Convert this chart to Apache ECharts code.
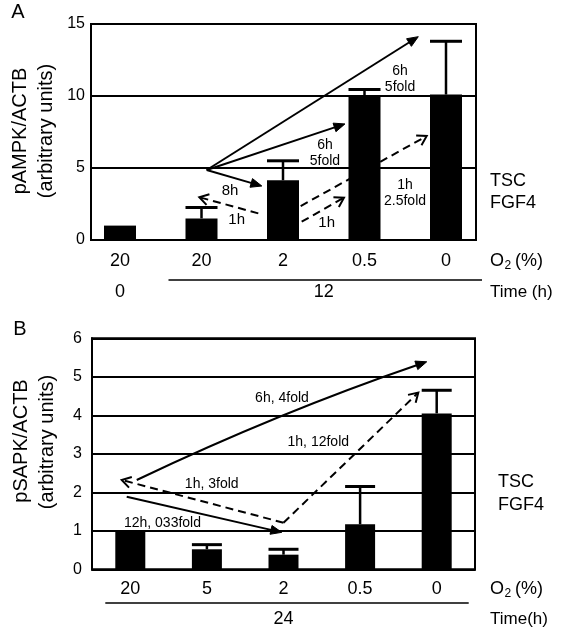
<!DOCTYPE html>
<html><head><meta charset="utf-8">
<script src="https://cdn.jsdelivr.net/npm/echarts@6/dist/echarts.min.js"></script>
<style>html,body{margin:0;padding:0;background:#fff}#c{width:564px;height:629px}</style>
</head><body><div id="c"></div>
<script>
// ---------- data ----------
const categoriesA = ['20', '20', '2', '0.5', '0'];
const valuesA = [1.0, 1.5, 4.15, 10.0, 10.1];
const errUpperA = [0, 0.75, 1.35, 0.46, 3.7];
const yMaxA = 15, yStepA = 5;

const categoriesB = ['20', '5', '2', '0.5', '0'];
const valuesB = [1.0, 0.52, 0.38, 1.17, 4.05];
const errUpperB = [0, 0.12, 0.14, 0.98, 0.6];
const yMaxB = 6, yStepB = 1;

// time groups (label, first category, last category)
const timeGroupsA = [['0', 0, 0], ['12', 1, 4]];
const timeGroupsB = [['24', 0, 4]];

// annotations in data units: [category position, y value]
const arrowsA = [
  { from: [1.064, 4.86], to: [3.66, 14.12], dash: false },
  { from: [1.064, 4.86], to: [2.76, 8.06], dash: false },
  { from: [1.064, 4.86], to: [1.74, 3.75], dash: false },
  { from: [1.697, 1.85], to: [0.973, 2.97], dash: true },
  { from: [2.217, 2.36], to: [3.763, 7.22], dash: true },
  { from: [2.229, 1.27], to: [2.748, 2.94], dash: true }
];
const labelsA = [
  ['6h\n5fold', 3.436, 11.18, 14],
  ['6h\n5fold', 2.515, 6.04, 14],
  ['8h', 1.35, 3.40, 15],
  ['1h', 1.432, 1.39, 15],
  ['1h\n2.5fold', 3.497, 3.23, 14],
  ['1h', 2.536, 1.16, 15]
];
const arrowsB = [
  { from: [0.084, 2.32], to: [3.87, 5.39], ctrl: [1.932, 4.07], dash: false },
  { from: [2.0, 1.21], to: [-0.112, 2.32], dash: true },
  { from: [-0.047, 1.886], to: [1.977, 0.96], dash: false },
  { from: [2.0, 1.21], to: [3.76, 4.59], dash: true }
];
const labelsB = [
  ['6h, 4fold', 1.98, 4.44, 14],
  ['1h, 3fold', 1.063, 2.21, 14],
  ['12h, 033fold', 0.42, 1.21, 14],
  ['1h, 12fold', 2.454, 3.29, 14]
];

// ---------- chart ----------
const FONT = 'Liberation Sans, Arial, Helvetica, sans-serif';
const chart = echarts.init(document.getElementById('c'), null, { renderer: 'canvas' });

function errData(vals, errs) {
  const out = [];
  vals.forEach((v, i) => { if (errs[i] > 0) out.push([i, v, v + errs[i]]); });
  return out;
}
function errSeries(xi, yi, vals, errs, capW) {
  return {
    type: 'custom', xAxisIndex: xi, yAxisIndex: yi, z: 5,
    data: errData(vals, errs),
    renderItem: function (params, api) {
      const p0 = api.coord([api.value(0), api.value(1)]);
      const p1 = api.coord([api.value(0), api.value(2)]);
      return {
        type: 'group', children: [
          { type: 'line', shape: { x1: p0[0], y1: p0[1], x2: p1[0], y2: p1[1] }, style: { stroke: '#000', lineWidth: 2.5 } },
          { type: 'line', shape: { x1: p1[0] - capW / 2, y1: p1[1], x2: p1[0] + capW / 2, y2: p1[1] }, style: { stroke: '#000', lineWidth: 3 } }
        ]
      };
    }
  };
}
const catLabel = (m) => ({ show: true, color: '#000', fontSize: 18, fontFamily: FONT, margin: m, interval: 0 });

chart.setOption({
  animation: false,
  backgroundColor: '#fff',
  grid: [
    { left: 91, top: 24, width: 385, height: 216, show: true, borderColor: '#000', borderWidth: 2, backgroundColor: 'transparent' },
    { left: 79.25, top: 24, width: 407.5, height: 216 },
    { left: 92, top: 338.3, width: 383, height: 231, show: true, borderColor: '#000', borderWidth: 2, backgroundColor: 'transparent' }
  ],
  xAxis: [
    { gridIndex: 0, type: 'value', min: 0, max: 1, show: false, position: 'top' },
    { gridIndex: 1, type: 'category', data: categoriesA, position: 'bottom', axisLine: { show: false }, axisTick: { show: false }, axisLabel: catLabel(12) },
    { gridIndex: 1, type: 'value', min: -0.5, max: 4.5, show: false, position: 'top' },
    { gridIndex: 2, type: 'category', data: categoriesB, position: 'bottom', axisLine: { show: true, onZero: false, lineStyle: { color: '#000', width: 2 } }, axisTick: { show: false }, axisLabel: catLabel(11) },
    { gridIndex: 2, type: 'value', min: -0.5, max: 4.5, show: false, position: 'top' }
  ],
  yAxis: [
    { gridIndex: 0, type: 'value', min: 0, max: yMaxA, interval: yStepA,
      axisLine: { show: true, onZero: false, lineStyle: { color: '#000', width: 2 } }, axisTick: { show: false },
      axisLabel: { color: '#000', fontSize: 16, fontFamily: FONT, margin: 6 },
      splitLine: { show: true, lineStyle: { color: '#000', width: 2 } } },
    { gridIndex: 1, type: 'value', min: 0, max: yMaxA, show: false, splitLine: { show: false } },
    { gridIndex: 2, type: 'value', min: 0, max: yMaxB, interval: yStepB,
      axisLine: { show: true, onZero: false, lineStyle: { color: '#000', width: 2 } }, axisTick: { show: false },
      axisLabel: { color: '#000', fontSize: 16, fontFamily: FONT, margin: 10 },
      splitLine: { show: true, lineStyle: { color: '#000', width: 2 } } }
  ],
  series: [
    { type: 'line', xAxisIndex: 0, yAxisIndex: 0, data: [] },
    { type: 'bar', xAxisIndex: 1, yAxisIndex: 1, data: valuesA, barWidth: 32, itemStyle: { color: '#000' }, z: 4 },
    errSeries(1, 1, valuesA, errUpperA, 32),
    { type: 'bar', xAxisIndex: 3, yAxisIndex: 2, data: valuesB, barWidth: 30, itemStyle: { color: '#000' }, z: 4 },
    errSeries(3, 2, valuesB, errUpperB, 30)
  ]
});

// ---------- annotations ----------
const G = [];
const toA = (p) => chart.convertToPixel({ xAxisIndex: 2, yAxisIndex: 1 }, p);
const toB = (p) => chart.convertToPixel({ xAxisIndex: 4, yAxisIndex: 2 }, p);

function text(str, x, y, size, opts) {
  opts = opts || {};
  G.push({
    type: 'text', x: x, y: y, rotation: opts.rot || 0, z: 20,
    style: { text: str, fill: '#000', fontSize: size, fontFamily: FONT,
      align: opts.align || 'center', verticalAlign: 'middle', lineHeight: opts.lh || size + 2 }
  });
}
function arrow(a, conv) {
  const p0 = conv(a.from), p1 = conv(a.to);
  const c = a.ctrl ? conv(a.ctrl) : null;
  const ref = c || p0;
  let dx = p1[0] - ref[0], dy = p1[1] - ref[1];
  const len = Math.hypot(dx, dy); dx /= len; dy /= len;
  const nx = -dy, ny = dx;
  const L = a.dash ? 9 : 11, W = a.dash ? 5.5 : 4.5;
  const base = [p1[0] - dx * L, p1[1] - dy * L];
  const endLine = a.dash ? [p1[0] - dx * 1.5, p1[1] - dy * 1.5] : [p1[0] - dx * L * 0.7, p1[1] - dy * L * 0.7];
  const st = { stroke: '#000', lineWidth: 2, fill: null, lineDash: a.dash ? [8, 5] : null };
  if (c) {
    G.push({ type: 'bezierCurve', z: 15, shape: { x1: p0[0], y1: p0[1], x2: endLine[0], y2: endLine[1], cpx1: c[0], cpy1: c[1] }, style: st });
  } else {
    G.push({ type: 'line', z: 15, shape: { x1: p0[0], y1: p0[1], x2: endLine[0], y2: endLine[1] }, style: st });
  }
  if (a.dash) {
    G.push({ type: 'polyline', z: 15, shape: { points: [[base[0] + nx * W, base[1] + ny * W], p1, [base[0] - nx * W, base[1] - ny * W]] },
      style: { stroke: '#000', lineWidth: 2, fill: null } });
  } else {
    G.push({ type: 'polygon', z: 15, shape: { points: [p1, [base[0] + nx * W, base[1] + ny * W], [base[0] - nx * W, base[1] - ny * W]] },
      style: { fill: '#000', stroke: '#000', lineWidth: 1 } });
  }
}
arrowsA.forEach(a => arrow(a, toA));
arrowsB.forEach(a => arrow(a, toB));
labelsA.forEach(l => { const p = toA([l[1], l[2]]); text(l[0], p[0], p[1], l[3], { lh: 16 }); });
labelsB.forEach(l => { const p = toB([l[1], l[2]]); text(l[0], p[0], p[1], l[3]); });

// panel letters and y titles
text('A', 18, 12, 20);
text('B', 20, 329, 20);
text('pAMPK/ACTB', 20, 131, 20, { rot: Math.PI / 2 });
text('(arbitrary units)', 46, 131, 20, { rot: Math.PI / 2 });
text('pSAPK/ACTB', 21, 441, 20, { rot: Math.PI / 2 });
text('(arbitrary units)', 47, 442, 20, { rot: Math.PI / 2 });

// right-side labels
function o2(x, y) {
  text('O', x, y, 18, { align: 'left' });
  text('2', x + 14.5, y + 5, 12, { align: 'left' });
  text('(%)', x + 25, y, 18, { align: 'left' });
}
o2(490, 261); o2(490, 589);
text('Time (h)', 490, 292, 17, { align: 'left' });
text('Time(h)', 490, 619, 17, { align: 'left' });
text('TSC', 490, 181, 18, { align: 'left' });
text('FGF4', 490, 203, 18, { align: 'left' });
text('TSC', 498, 482, 18, { align: 'left' });
text('FGF4', 498, 505, 18, { align: 'left' });

// time groups
function groups(gs, conv, yText, yLine, padL, padR) {
  gs.forEach(g => {
    const a = conv([g[1], 0])[0], b = conv([g[2], 0])[0];
    text(g[0], (a + b) / 2, yText, 18);
    if (g[2] > g[1]) {
      G.push({ type: 'line', z: 15, shape: { x1: a - padL, y1: yLine, x2: b + padR, y2: yLine }, style: { stroke: '#000', lineWidth: 1.5 } });
    }
  });
}
groups(timeGroupsA, toA, 292, 280, 33, 36);
groups(timeGroupsB, toB, 619, 603, 25, 32);

chart.setOption({ graphic: { elements: G } });
</script>
</body></html>
